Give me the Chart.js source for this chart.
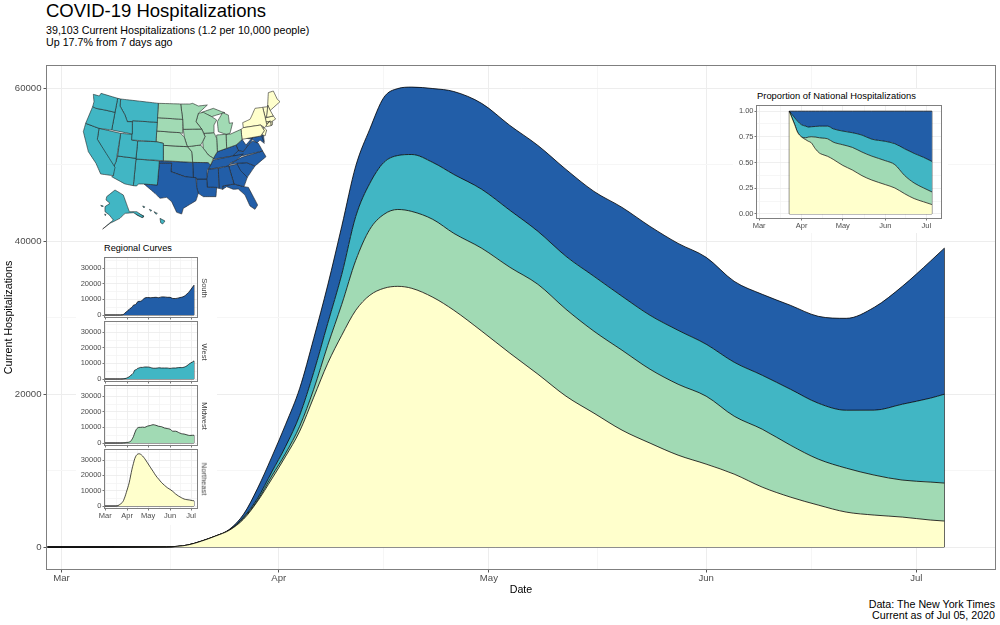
<!DOCTYPE html>
<html>
<head>
<meta charset="utf-8">
<title>COVID-19 Hospitalizations</title>
<script src="https://cdn.jsdelivr.net/npm/chart.js@4/dist/chart.umd.min.js"></script>
<style>
  html,body{margin:0;padding:0;background:#fff;width:1000px;height:625px;overflow:hidden;font-family:"Liberation Sans",Arial,sans-serif;color:#000}
  canvas{position:absolute;display:block}
  .txt{position:absolute;white-space:nowrap;line-height:1}
  .mask{position:absolute;background:#fff}
  .strip{position:absolute;white-space:nowrap;line-height:1;font-size:7.5px;color:#444;transform:translate(-50%,-50%) rotate(90deg)}
</style>
</head>
<body>
<div class="txt" style="left:46px;top:2px;font-size:18.5px">COVID-19 Hospitalizations</div>
<div class="txt" style="left:46px;top:25px;font-size:10.7px">39,103 Current Hospitalizations (1.2 per 10,000 people)</div>
<div class="txt" style="left:46px;top:37px;font-size:10.7px">Up 17.7% from 7 days ago</div>
<div class="txt" style="right:5px;top:599px;font-size:10.7px">Data: The New York Times</div>
<div class="txt" style="right:5px;top:610px;font-size:10.7px">Current as of Jul 05, 2020</div>
<script>
/* day number = days since Mar 1 2020 */
const days = [-2,15,18,20,22,24,26,28,30,32,34,36,38,40,42,44,46,48,50,53,56,60,64,68,72,76,80,84,88,92,96,100,104,108,112,116,120,124,126];
const northeast = [0,30,260,780,1440,2220,3660,6010,8890,11890,15160,19600,24050,27710,30980,32940,33850,34110,33850,32680,30980,28230,25360,22610,19740,17510,15290,13590,12020,10850,9540,7840,6540,5490,4570,4180,3920,3530,3400];
const midwest = [0,0,0,0,0,10,130,130,390,390,650,1050,2350,4050,6540,8630,9670,10060,10060,10190,10060,10850,11240,11760,11370,10720,10460,9670,9280,8890,7580,7580,6800,6010,5750,5230,4840,4970,4970];
const west = [0,0,0,0,0,10,130,260,520,915,1440,2220,2880,3920,5750,6010,6800,7060,7450,7450,7710,7710,7450,6930,6930,7190,7060,7060,7060,6800,7060,7060,7320,7320,7580,8500,9930,10980,11630];
const south = [0,0,0,0,0,100,390,1310,1960,2880,3530,4440,5000,6300,6600,7100,8500,8760,8820,9670,10850,11240,11110,11240,11370,11110,11630,11630,11370,11370,10590,10590,10980,11370,12020,13460,15420,17910,19103];

/* proportion inset, cumulative shares */
const shareDays = [22,26,28,31,34,36,38,41,44,46,50,54,61,68,75,82,92,99,106,113,120,126];
const shareNortheast = [1,.867,.796,.748,.722,.706,.693,.634,.592,.579,.56,.531,.472,.427,.372,.33,.285,.252,.197,.149,.117,.091];
const shareMidwest = [1,.867,.796,.748,.741,.748,.751,.748,.741,.738,.731,.699,.673,.647,.602,.563,.518,.479,.375,.301,.252,.214];
const shareWest = [1,.935,.903,.867,.854,.845,.848,.851,.854,.854,.854,.828,.806,.79,.767,.728,.706,.683,.634,.589,.55,.511];
const shareTop = [1,1,1,1,1,1,1,1,1,1,1,1,1,1,1,1,1,1,1,1,1,1];

const monthDays = [0,31,61,92,122];
const monthLabels = ['Mar','Apr','May','Jun','Jul'];
const minorDays = [15.5,46,76.5,107];
const mainYTicks = [0,20000,40000,60000];
const mainYMinor = [10000,30000,50000];
const regionYTicks = [0,10000,20000,30000];
const regionYMinor = [5000,15000,25000,35000];
const shareYTicks = [0,.25,.5,.75,1];
const shareYMinor = [.125,.375,.625,.875];

const cream = '#ffffcc';
const green = '#a1dab4';
const teal = '#41b6c4';
const blue = '#225ea8';

/* state outlines, x y pairs in map units */
const westStates = [
  [70,43,88,48,93,40,143,55,135,97,105,90,78,85,68,80,72,65],
  [68,80,78,85,105,90,135,97,125,150,87,145,47,130],
  [47,130,87,145,82,178,135,262,130,287,92,282,78,250,55,215,50,195,40,155],
  [87,145,152,160,138,245,130,262,82,178],
  [143,55,152,57,150,78,165,105,172,125,187,125,187,162,125,150,135,97],
  [152,57,265,70,262,127,188,122,187,125,172,125,165,105,150,78],
  [188,122,262,127,258,185,185,180],
  [152,160,187,163,185,180,203,183,198,235,143,228],
  [203,183,258,185,280,190,280,242,198,237],
  [143,228,198,235,190,317,165,312,125,290,130,287,130,262,138,245],
  [198,237,268,243,262,315,222,312,205,312,200,318,190,317],
  [110,350,135,330,160,345,178,395,200,395,222,410,215,412,190,398,165,400,150,415,120,430,98,447,130,420,118,405,105,395,105,380,120,370,108,360],
  [195,397,222,408,218,413,200,405],
  [270,415,285,423,278,432,272,428],
  [218,378,224,380,222,384],
  [238,388,245,391,242,394],
  [252,395,262,400,258,403],
  [92,376,100,378,97,381],
  [104,402,108,404,106,407]
];
const midwestStates = [
  [265,70,332,72,338,118,262,113],
  [262,113,338,118,338,160,330,158,260,153],
  [260,153,330,158,343,172,352,200,280,196,280,190,258,185],
  [280,196,352,200,365,215,368,247,280,242],
  [332,72,360,72,368,70,385,78,412,75,385,100,378,125,395,147,340,148,338,118],
  [340,148,395,147,405,170,398,185,392,195,352,200,343,172],
  [352,200,392,195,400,205,415,225,430,235,422,255,415,248,368,247,365,215],
  [378,125,385,100,400,97,425,110,440,120,432,135,432,158,402,160,395,147],
  [402,160,432,158,440,175,442,215,430,235,415,225,400,205,398,185,405,170],
  [440,165,468,163,470,205,442,215,440,175],
  [445,155,442,125,458,98,475,105,478,130,488,128,480,160,468,163],
  [395,97,430,85,455,95,465,98,440,105,425,110],
  [468,163,482,162,513,148,516,178,510,185,498,195,470,205]
];
const northeastStates = [
  [513,148,520,143,572,135,583,152,572,168,516,178],
  [518,128,540,118,545,108,555,85,578,82,585,110,590,133,600,122,590,135,584,143,572,135,520,143],
  [578,82,593,80,590,105,587,113,585,110],
  [593,75,600,90,610,108,590,112,590,105],
  [595,38,610,33,622,58,630,65,600,92,593,75],
  [587,113,610,108,617,117,605,125,587,125],
  [587,125,602,125,603,137,590,140],
  [602,125,608,125,607,135,603,137],
  [578,140,590,150,585,168,575,163,582,153]
];
const southStates = [
  [268,250,305,250,303,275,345,290,378,293,380,322,385,340,378,362,340,385,335,402,320,397,305,365,290,352,270,355,255,340,222,312,262,315],
  [268,243,368,247,370,295,345,290,303,275,305,250,268,250],
  [368,247,415,248,422,255,412,270,410,297,380,297,378,293,370,295],
  [380,297,410,297,412,322,440,322,438,350,400,350,385,340,380,322],
  [415,268,445,265,447,325,430,322,412,322,410,297],
  [445,265,476,258,492,312,458,318,458,328,447,325],
  [415,268,420,258,430,240,520,222,500,240,480,250,476,258],
  [428,238,442,215,470,205,498,195,505,212,488,228],
  [488,228,505,212,520,215,535,195,548,183,565,190,578,213,515,228],
  [498,195,510,185,516,178,528,195,548,172,545,183,535,195,520,215,505,212],
  [478,254,500,240,515,232,578,213,588,230,555,258,530,248,500,250],
  [500,250,530,248,555,258,532,292,512,272],
  [476,258,503,252,532,292,522,320,492,312],
  [458,318,492,312,522,320,535,322,563,375,555,388,540,378,525,345,505,327,490,328,470,320,458,328],
  [530,175,575,168,583,190,570,180,560,190,548,178],
  [575,165,580,165,583,185,576,180]
];

Chart.defaults.font.family = '"Liberation Sans",Arial,sans-serif';
Chart.defaults.animation = false;

const frame = {
  id:'frame',
  afterDatasetsDraw(chart){
    const a = chart.chartArea, c = chart.ctx;
    c.save();
    c.strokeStyle = '#7f7f7f';
    c.lineWidth = 1;
    c.strokeRect(a.left,a.top,a.right-a.left,a.bottom-a.top);
    c.restore();
  }
};

function area(data, xs, color, fill, width){
  return {
    data:xs.map((x,i)=>({x:x,y:data[i]})),
    borderColor:'#000',
    backgroundColor:color,
    borderWidth:width,
    pointRadius:0,
    cubicInterpolationMode:'monotone',
    fill:fill
  };
}

function edge(x1,y1,x2,y2,width){
  return {
    data:[{x:x1,y:y1},{x:x2,y:y2}],
    borderColor:'#000',
    borderWidth:width,
    pointRadius:0,
    fill:false
  };
}

function sumUp(arrays){
  const out = [];
  arrays.reduce((acc,arr)=>{
    const next = arr.map((v,i)=>v+(acc?acc[i]:0));
    out.push(next);
    return next;
  },null);
  return out;
}

function panelChart(p){
  const cv = document.createElement('canvas');
  const w = p.r-p.l+p.ml+p.mr, h = p.b-p.t+p.mt+p.mb;
  cv.width = Math.round(w);
  cv.height = Math.round(h);
  cv.style.left = (p.l-p.ml)+'px';
  cv.style.top = (p.t-p.mt)+'px';
  cv.style.width = Math.round(w)+'px';
  cv.style.height = Math.round(h)+'px';
  document.body.appendChild(cv);
  const font = {size:p.fontSize};
  const gridCol = minors => c => minors.includes(c.tick.value) ? p.minorColor : p.majorColor;
  const tickCol = minors => c => minors.includes(c.tick.value) ? 'rgba(0,0,0,0)' : '#555';
  return new Chart(cv,{
    type:'line',
    data:{datasets:p.datasets},
    plugins:[frame],
    options:{
      responsive:false,
      devicePixelRatio:1,
      layout:{autoPadding:false,padding:{left:0,top:p.mt,right:p.mr,bottom:0}},
      plugins:{legend:{display:false},tooltip:{enabled:false}},
      scales:{
        x:{
          type:'linear',min:p.xMin,max:p.xMax,
          afterFit:s=>{s.height = p.mb;},
          afterBuildTicks:s=>{s.ticks = monthDays.concat(minorDays).sort((a,b)=>a-b).map(v=>({value:v}));},
          grid:{color:gridCol(minorDays),tickColor:tickCol(minorDays),tickLength:p.tick,lineWidth:p.gridWidth},
          border:{display:false},
          ticks:{
            display:p.xLabels,autoSkip:false,maxRotation:0,color:'#4d4d4d',font:font,padding:p.padX,
            callback:v=>monthDays.includes(v)?monthLabels[monthDays.indexOf(v)]:''
          },
          title:p.xTitle?{display:true,text:p.xTitle,color:'#000',font:{size:10.7},padding:0}:{display:false}
        },
        y:{
          type:'linear',min:p.yMin,max:p.yMax,
          afterFit:s=>{s.width = p.ml;},
          afterBuildTicks:s=>{s.ticks = p.yTicks.concat(p.yMinor).sort((a,b)=>a-b).map(v=>({value:v}));},
          grid:{color:gridCol(p.yMinor),tickColor:tickCol(p.yMinor),tickLength:p.tick,lineWidth:p.gridWidth},
          border:{display:false},
          ticks:{
            autoSkip:false,color:'#4d4d4d',font:font,padding:p.pad,
            callback:v=>p.yTicks.includes(v)?(p.yFormat?p.yFormat(v):String(v)):''
          },
          title:p.yTitle?{display:true,text:p.yTitle,color:'#000',font:{size:10.7},padding:{top:3,bottom:0}}:{display:false}
        }
      }
    }
  });
}

/* main stacked area */
const [topNE,topMW,topW,topS] = sumUp([northeast,midwest,west,south]);
const lastDay = days[days.length-1];
panelChart({
  l:46.5,t:65.5,r:995.5,b:569.5,ml:46.5,mt:65.5,mr:4.5,mb:26.5,
  xMin:-2.14,xMax:133.3,yMin:-2941,yMax:63007,
  yTicks:mainYTicks,yMinor:mainYMinor,
  fontSize:9.6,tick:3,pad:2,padX:0,gridWidth:1,xLabels:true,
  majorColor:'#ededed',minorColor:'#f6f6f6',
  xTitle:'Date',yTitle:'Current Hospitalizations',
  datasets:[
    area(topNE,days,cream,'origin',.8),
    area(topMW,days,green,'-1',.8),
    area(topW,days,teal,'-1',.8),
    area(topS,days,blue,'-1',.8),
    edge(days[0],0,lastDay,0,.8),
    edge(lastDay,0,lastDay,topS[topS.length-1],.8)
  ]
});

function mask(x,y,w,h){
  const d = document.createElement('div');
  d.className = 'mask';
  d.style.cssText = `left:${x}px;top:${y}px;width:${w}px;height:${h}px`;
  document.body.appendChild(d);
}
function label(text,x,y,size){
  const d = document.createElement('div');
  d.className = 'txt';
  d.textContent = text;
  d.style.cssText = `left:${x}px;top:${y}px;font-size:${size}px`;
  document.body.appendChild(d);
}
function strip(text,x,y){
  const d = document.createElement('div');
  d.className = 'strip';
  d.textContent = text;
  d.style.left = x+'px';
  d.style.top = y+'px';
  document.body.appendChild(d);
}

mask(76,242,141,283);
mask(733,89,215,144);

/* regional small multiples */
label('Regional Curves',104,244,9.2);
const regions = [
  {name:'South',values:south,color:blue,t:257.5,b:317.5},
  {name:'West',values:west,color:teal,t:321.5,b:381.5},
  {name:'Midwest',values:midwest,color:green,t:385.5,b:445.5},
  {name:'Northeast',values:northeast,color:cream,t:449.5,b:508.5}
];
regions.forEach((r,i)=>{
  const isLast = i===regions.length-1;
  const end = r.values[r.values.length-1];
  panelChart({
    l:104.5,t:r.t,r:197.5,b:r.b,ml:30.5,mt:8.5,mr:2.5,mb:isLast?13.5:8.5,
    xMin:-1,xMax:131,yMin:-1600,yMax:36900,
    yTicks:regionYTicks,yMinor:regionYMinor,
    fontSize:7.5,tick:2,pad:1,padX:1,gridWidth:.8,xLabels:isLast,
    majorColor:'#ebebeb',minorColor:'#f4f4f4',
    datasets:[
      area(r.values,days,r.color,'origin',.7),
      edge(days[0],0,lastDay,0,.7),
      edge(lastDay,0,lastDay,end,.7)
    ]
  });
  strip(r.name,204,(r.t+r.b)/2);
});

/* proportion inset */
label('Proportion of National Hospitalizations',757,91,9.4);
const shareFirst = shareDays[0], shareLast = shareDays[shareDays.length-1];
panelChart({
  l:756.5,t:105.5,r:941.5,b:218.5,ml:30.5,mt:8.5,mr:2.5,mb:14.5,
  xMin:-1.9,xMax:133,yMin:-.045,yMax:1.055,
  yTicks:shareYTicks,yMinor:shareYMinor,
  fontSize:7.5,tick:2,pad:1,padX:1,gridWidth:.8,xLabels:true,
  majorColor:'#ebebeb',minorColor:'#f4f4f4',
  yFormat:v=>v.toFixed(2),
  datasets:[
    area(shareNortheast,shareDays,cream,'origin',.7),
    area(shareMidwest,shareDays,green,'-1',.7),
    area(shareWest,shareDays,teal,'-1',.7),
    area(shareTop,shareDays,blue,'-1',.7),
    edge(shareFirst,0,shareLast,0,.7),
    edge(shareFirst,0,shareFirst,1,.7),
    edge(shareLast,0,shareLast,1,.7)
  ]
});

/* state map; the tiny tension keeps Chart.js off its column-merging fast path */
function statePolys(list,color){
  return list.map(s=>{
    const pts = [];
    for(let i=0;i<s.length;i+=2) pts.push({x:s[i],y:s[i+1]});
    pts.push({x:s[0],y:s[1]});
    return {data:pts,borderColor:'#222',backgroundColor:color,borderWidth:.6,pointRadius:0,fill:'shape',tension:.001};
  });
}
const mapCv = document.createElement('canvas');
mapCv.width = 220; mapCv.height = 160;
mapCv.style.cssText = 'left:70px;top:80px;width:220px;height:160px';
document.body.appendChild(mapCv);
new Chart(mapCv,{
  type:'line',
  data:{datasets:[].concat(
    statePolys(westStates,teal),
    statePolys(midwestStates,green),
    statePolys(northeastStates,cream),
    statePolys(southStates,blue)
  )},
  options:{
    responsive:false,
    devicePixelRatio:1,
    layout:{autoPadding:false,padding:0},
    plugins:{legend:{display:false},tooltip:{enabled:false}},
    scales:{
      x:{type:'linear',min:0,max:660,display:false},
      y:{type:'linear',min:0,max:480,reverse:true,display:false}
    }
  }
});
</script>
</body>
</html>
